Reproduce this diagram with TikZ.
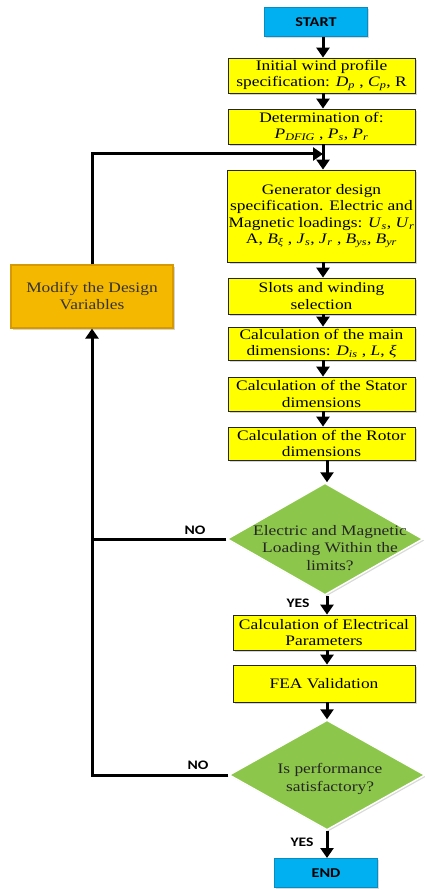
\documentclass[tikz,border=0pt]{standalone}
\usepackage{fontspec}
\setmainfont{Liberation Serif}[FakeStretch=1.2]
\newfontfamily\lblfont{Carlito}[FakeStretch=1.2]
\usetikzlibrary{shapes.geometric,arrows.meta,shadows}
\definecolor{boxyellow}{HTML}{FFFF00}
\definecolor{termblue}{HTML}{00B0F0}
\definecolor{termedge}{HTML}{0A8CC0}
\definecolor{decgreen}{HTML}{8CC64A}
\definecolor{modamber}{HTML}{F5B800}
\definecolor{modedge}{HTML}{D69A00}
\newcommand{\vsb}[2]{\textit{#1}\textsubscript{\textit{#2}}}
\begin{document}
\begin{tikzpicture}[x=1pt,y=-1pt,
  proc/.style={draw=black!85, line width=0.8pt, fill=boxyellow, minimum width=187pt,
    align=center, inner sep=1pt, font=\fontsize{14.5}{16.5}\selectfont,
    drop shadow={shadow xshift=2pt, shadow yshift=-2pt, opacity=0.35}},
  term/.style={draw=termedge, line width=1pt, fill=termblue, minimum width=103pt,
    minimum height=29pt, font=\lblfont\bfseries\fontsize{13.5}{15}\selectfont,
    drop shadow={shadow xshift=1.5pt, shadow yshift=-1.5pt, opacity=0.3}},
  dec/.style={diamond, draw=white, line width=1.5pt, fill=decgreen, inner sep=0pt,
    drop shadow={shadow xshift=1.5pt, shadow yshift=-1.5pt, opacity=0.3}},
  dectext/.style={align=center, font=\fontsize{14.5}{17.5}\selectfont, text=black!85},
  modbox/.style={draw=modedge, line width=1.2pt, fill=modamber, minimum width=162pt,
    minimum height=63pt, align=center, font=\fontsize{14.5}{17}\selectfont, text=black!80,
    drop shadow={shadow xshift=2pt, shadow yshift=-2pt, opacity=0.35}},
  lbl/.style={font=\lblfont\bfseries\fontsize{13}{14}\selectfont},
  arr/.style={line width=3pt, -{Triangle[width=13pt,length=10pt]}},
  ln/.style={line width=3pt}]
\useasboundingbox (0,0) rectangle (424,890);
% column coordinates
\coordinate (col) at (323,0);
\coordinate (colb) at (327,0);
% terminals
\node[term] (start) at (316,22.5) {START};
\node[term] (end) at (326,873) {END};
% process boxes
\node[proc, minimum height=35pt] (b1) at (321.5,75.5) {Initial wind profile\\specification: \vsb{D}{p} , \vsb{C}{p}, R};
\node[proc, minimum height=35pt] (b2) at (321.5,126.5) {Determination of:\\\vsb{P}{DFIG} , \vsb{P}{s}, \vsb{P}{r}};
\node[proc, minimum height=92pt] (b3) at (321.5,216) {Generator design\\specification. Electric and\\Magnetic loadings: \vsb{U}{s}, \vsb{U}{r}\\A, \vsb{B}{ξ} , \vsb{J}{s}, \vsb{J}{r} , \vsb{B}{ys}, \vsb{B}{yr}};
\node[proc, minimum height=36pt] (b4) at (321.5,296) {Slots and winding\\selection};
\node[proc, minimum height=33pt] (b5) at (321.5,343.5) {Calculation of the main\\dimensions: \vsb{D}{is} , \textit{L}, \textit{ξ}};
\node[proc, minimum height=34pt] (b6) at (321.5,394) {Calculation of the Stator\\dimensions};
\node[proc, minimum height=33pt] (b7) at (321.5,443.5) {Calculation of the Rotor\\dimensions};
\node[proc, minimum width=182pt, minimum height=35pt] (b8) at (324,632.5) {Calculation of Electrical\\Parameters};
\node[proc, minimum width=182pt, minimum height=37pt] (b9) at (324,683.5) {FEA Validation};
% decisions
\node[dec, minimum width=196pt, minimum height=112pt] (d1) at (325,539) {};
\node[dectext] (d1t) at (330,548) {Electric and Magnetic\\Loading Within the\\limits?};
\node[dec, minimum width=196pt, minimum height=110pt] (d2) at (327,775) {};
\node[dectext] (d2t) at (330,779) {Is performance\\satisfactory?};
% modify box
\node[modbox] (mod) at (92,296.5) {Modify the Design\\Variables};
% labels
\node[lbl] (no1) at (195,530) {NO};
\node[lbl] (no2) at (198,765) {NO};
\node[lbl] (yes1) at (298,603) {YES};
\node[lbl] (yes2) at (302,842) {YES};
% join point for feedback
\coordinate (join) at (323,154);
% main flow
\draw[arr] (start.south -| col) -- (b1.north -| col);
\draw[arr] (b1.south -| col) -- (b2.north -| col);
\draw[arr] (b2.south -| col) -- (b3.north -| col);
\draw[arr] (b3.south -| col) -- (b4.north -| col);
\draw[arr] (b4.south -| col) -- (b5.north -| col);
\draw[arr] (b5.south -| col) -- (b6.north -| col);
\draw[arr] (b6.south -| col) -- (b7.north -| col);
\draw[arr] (b7.south -| colb) -- (d1.north -| colb);
\draw[arr] (d1.south -| colb) -- (b8.north -| colb);
\draw[arr] (b8.south -| colb) -- (b9.north -| colb);
\draw[arr] (b9.south -| colb) -- (d2.north -| colb);
\draw[arr] (d2.south -| colb) -- (end.north -| colb);
% feedback loops
\draw[arr] (mod.north) |- (join);
\draw[ln] (d1.west) -- (d1.west -| mod.south);
\draw[arr] (d2.west) -| (mod.south);
\end{tikzpicture}
\end{document}
